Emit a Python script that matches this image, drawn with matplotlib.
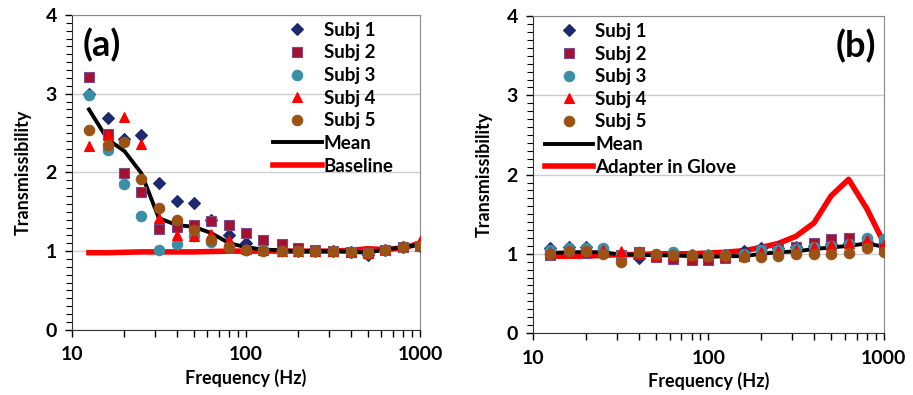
import numpy as np
import matplotlib.pyplot as plt
from matplotlib.ticker import MultipleLocator, FixedLocator, NullFormatter

plt.rcParams['font.family'] = ['Lato', 'DejaVu Sans']
plt.rcParams['font.weight'] = 'bold'

freq = [12.5, 16, 20, 25, 31.5, 40, 50, 63, 80, 100, 125, 160, 200, 250, 315, 400, 500, 630, 800, 1000]

# panel (a)
a_subj1 = [3.00, 2.69, 2.42, 2.48, 1.87, 1.64, 1.61, 1.40, 1.21, 1.10, 1.03, 1.01, 1.00, 1.00, 1.00, 0.99, 0.95, 1.02, 1.05, 1.07]
a_subj2 = [3.21, 2.49, 1.99, 1.75, 1.28, 1.31, 1.33, 1.38, 1.33, 1.23, 1.14, 1.09, 1.04, 1.01, 1.00, 0.99, 0.98, 1.02, 1.05, 1.07]
a_subj3 = [2.99, 2.29, 1.85, 1.44, 1.02, 1.09, 1.19, 1.12, 1.05, 1.02, 1.01, 1.00, 1.00, 1.00, 1.00, 0.99, 0.98, 1.02, 1.05, 1.06]
a_subj4 = [2.33, 2.48, 2.70, 2.36, 1.42, 1.21, 1.19, 1.22, 1.14, 1.03, 1.01, 1.00, 1.00, 1.00, 1.00, 0.99, 0.98, 1.03, 1.06, 1.13]
a_subj5 = [2.54, 2.35, 2.39, 1.92, 1.55, 1.39, 1.27, 1.14, 1.05, 1.02, 1.00, 1.00, 1.00, 1.00, 1.00, 0.99, 0.98, 1.02, 1.05, 1.07]
a_mean = [2.80, 2.42, 2.27, 1.99, 1.42, 1.33, 1.31, 1.23, 1.10, 1.05, 1.02, 1.01, 1.00, 1.00, 1.00, 0.99, 0.98, 1.02, 1.05, 1.08]
a_base = [0.98, 0.98, 0.985, 0.99, 0.99, 0.99, 0.99, 0.995, 1.00, 1.00, 1.00, 1.00, 1.00, 1.00, 1.00, 1.01, 1.03, 1.02, 1.04, 1.10]

# panel (b)
b_subj1 = [1.07, 1.09, 1.09, 1.04, 0.98, 0.95, 0.98, 0.99, 0.98, 0.98, 0.99, 1.03, 1.07, 1.07, 1.08, 1.10, 1.12, 1.14, 1.15, 1.12]
b_subj2 = [0.99, 1.03, 1.01, 1.02, 0.98, 1.02, 0.96, 0.94, 0.92, 0.92, 0.95, 0.97, 1.05, 1.07, 1.08, 1.13, 1.19, 1.20, 1.15, 1.12]
b_subj3 = [1.05, 1.07, 1.07, 1.07, 0.99, 1.00, 0.99, 1.02, 0.98, 0.98, 0.98, 1.00, 1.05, 1.05, 1.06, 1.09, 1.10, 1.12, 1.20, 1.19]
b_subj4 = [1.02, 1.04, 1.03, 1.05, 1.04, 1.00, 0.99, 0.98, 0.97, 0.97, 0.98, 0.99, 1.02, 1.04, 1.05, 1.08, 1.11, 1.13, 1.18, 1.11]
b_subj5 = [1.00, 1.03, 1.03, 1.00, 0.90, 1.02, 1.00, 0.99, 0.98, 0.97, 0.97, 0.96, 0.96, 0.97, 1.00, 1.00, 1.00, 1.01, 1.07, 1.02]
b_mean = [1.01, 1.02, 1.02, 1.02, 0.99, 0.99, 0.98, 0.98, 0.97, 0.96, 0.97, 0.97, 1.00, 1.02, 1.03, 1.06, 1.08, 1.10, 1.13, 1.09]
b_glove = [0.97, 0.97, 0.97, 0.98, 0.99, 0.99, 1.00, 1.00, 1.00, 1.01, 1.02, 1.04, 1.08, 1.13, 1.22, 1.39, 1.73, 1.94, 1.57, 1.14]

markers = [('D', '#1c2a6e', 6), ('s', '#a4122f', 7), ('o', '#3a8ea6', 7.5), ('^', '#ff0000', 7.5), ('o', '#9c5214', 7.5)]


def draw(ax, subjs, mean, ref, ref_label, tag, tag_x, legend_anchor):
    for i, (vals, (m, c, ms)) in enumerate(zip(subjs, markers)):
        ax.plot(freq, vals, linestyle='none', marker=m, color=c, markersize=ms,
                markeredgecolor='#7a4a8a' if m == 's' else c, markeredgewidth=0.8,
                label='Subj %d' % (i + 1), zorder=4)
    ax.plot(freq, mean, color='black', lw=2.8, label='Mean', zorder=3)
    ax.plot(freq, ref, color='#ff0000', lw=4, label=ref_label, zorder=2)

    ax.set_xscale('log')
    ax.set_xlim(10, 1000)
    ax.set_ylim(0, 4)
    ax.yaxis.set_major_locator(MultipleLocator(1))
    ax.yaxis.set_minor_locator(MultipleLocator(0.1))
    ax.xaxis.set_major_locator(FixedLocator([10, 100, 1000]))
    ax.xaxis.set_major_formatter(plt.FuncFormatter(lambda v, p: '%d' % v))
    ax.xaxis.set_minor_locator(FixedLocator([20, 30, 40, 50, 60, 70, 80, 90, 200, 300, 400, 500, 600, 700, 800, 900]))
    ax.xaxis.set_minor_formatter(NullFormatter())
    ax.tick_params(axis='both', which='major', labelsize=14, length=5, width=1)
    ax.tick_params(axis='y', which='major', pad=6)
    ax.tick_params(axis='x', which='major', pad=7)
    ax.tick_params(axis='y', which='minor', length=4, width=0.8)
    ax.tick_params(axis='x', which='minor', length=5, width=1)
    ax.grid(axis='y', which='major', color='#cccccc', lw=1)
    ax.set_axisbelow(True)
    for s in ['top', 'right']:
        ax.spines[s].set_color('#888888')
    ax.spines['left'].set_color('#333333')
    ax.spines['bottom'].set_color('#333333')
    ax.set_xlabel('Frequency (Hz)', fontsize=13, fontweight='bold', labelpad=4)
    ax.text(tag_x, 0.905, tag, transform=ax.transAxes, fontsize=26, fontweight='bold',
            ha='center', va='center')
    ax.legend(loc='upper left', bbox_to_anchor=legend_anchor, frameon=False,
              handlelength=2.6, handletextpad=0.1, labelspacing=0.3, borderpad=0.2,
              prop={'weight': 'bold', 'size': 13.5})


fig = plt.figure(figsize=(9.13, 3.95), dpi=100)
ax1 = fig.add_axes([0.079, 0.165, 0.381, 0.797])
ax2 = fig.add_axes([0.584, 0.157, 0.384, 0.802])

draw(ax1, [a_subj1, a_subj2, a_subj3, a_subj4, a_subj5], a_mean, a_base, 'Baseline',
     '(a)', 0.085, (0.54, 1.02))
draw(ax2, [b_subj1, b_subj2, b_subj3, b_subj4, b_subj5], b_mean, b_glove, 'Adapter in Glove',
     '(b)', 0.92, (-0.005, 1.02))

ax1.set_ylabel('Transmissibility', fontsize=13, fontweight='bold', labelpad=10)
ax2.set_ylabel('Transmissibility', fontsize=13, fontweight='bold', labelpad=10)

fig.savefig('out.png', dpi=100)
